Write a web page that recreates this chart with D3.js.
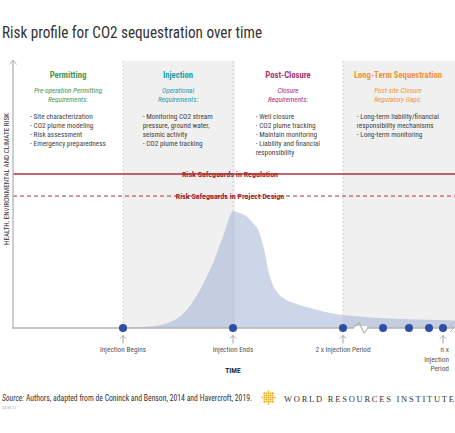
<!DOCTYPE html>
<html><head><meta charset="utf-8">
<script src="https://cdn.jsdelivr.net/npm/d3@7"></script>
<style>
body{margin:0;background:#fff;}
svg{display:block;}
text{font-family:"Liberation Sans Narrow","Roboto Condensed","DejaVu Sans Condensed",Roboto,sans-serif;}
</style></head>
<body>
<svg id="chart" width="455" height="433"></svg>
<script>
// ---------- data ----------
const title = "Risk profile for CO2 sequestration over time";
const phases = ["Permitting", "Injection", "Post-Closure", "Long-Term Sequestration"];
const phaseStart = [0, 1, 2, 3];
const phaseEnd = [1, 2, 3, 4];
const phaseShaded = [false, true, false, true];
const phaseColors = ["#3f9a5a", "#1ba3b3", "#a8336f", "#f0943a"];
const phaseSubtitles = [
  ["Pre-operation Permitting", "Requirements:"],
  ["Operational", "Requirements:"],
  ["Closure", "Requirements:"],
  ["Post-site Closure", "Regulatory Gaps:"]
];
const phaseBullets = [
  ["- Site characterization", "- CO2 plume modeling", "- Risk assessment", "- Emergency preparedness"],
  ["- Monitoring CO2 stream", "pressure, ground water,", "seismic activity", "- CO2 plume tracking"],
  ["- Well closure", "- CO2 plume tracking", "- Maintain monitoring", "- Liability and financial", "responsibility"],
  ["- Long-term liability/financial", "responsibility mechanisms", "- Long-term monitoring"]
];
// risk profile curve (time in injection periods, risk in % of axis height)
const curveTime = [1.0, 1.2, 1.34, 1.47, 1.58, 1.7, 1.76, 1.83, 1.88, 1.93, 1.965, 2.0,
  2.06, 2.13, 2.18, 2.23, 2.26, 2.29, 2.32, 2.355, 2.4, 2.47, 2.58, 2.7, 2.84, 3.0, 3.34, 3.7, 4.02];
const curveRisk = [0, 0.4, 1.1, 3.0, 6.8, 14.3, 19.2, 25.6, 31.2, 36.8, 41.4, 44.0,
  43.2, 41.7, 39.5, 36.8, 33.1, 28.2, 21.8, 16.9, 13.5, 10.9, 9.0, 7.5, 6.0, 4.9, 3.8, 3.2, 2.8];
const milestoneTime = [1, 2, 3, 3.364, 3.6, 3.782, 3.909];
const milestoneLabels = [["Injection Begins"], ["Injection Ends"], ["2 x Injection Period"], null, null, null, ["n x", "Injection", "Period"]];
const thresholdRisk = [57.9, 49.6];
const thresholdLabels = ["Risk Safeguards in Regulation", "Risk Safeguards in Project Design"];
const thresholdDashed = [false, true];
const yAxisLabel = "HEALTH, ENVIRONMENTAL AND CLIMATE RISK";
const xAxisLabel = "TIME";
const sourceLabel = "Source:";
const sourceText = " Authors, adapted from de Coninck and Benson, 2014 and Havercroft, 2019.";
const dateText = "24.08.12";
const orgName = "WORLD RESOURCES INSTITUTE";

// ---------- drawing ----------
(function () {
const svg = d3.select("#chart");
const x = d3.scaleLinear().domain([0, 4]).range([13, 453]);
const y = d3.scaleLinear().domain([0, 100]).range([328, 62]);
const bandTop = 61, base = y(0);
function condense(sel, f) {
  sel.each(function () {
    const len = this.getComputedTextLength();
    d3.select(this).attr("textLength", len * f).attr("lengthAdjust", "spacingAndGlyphs");
  });
  return sel;
}

svg.append("text").attr("x", 2).attr("y", 38).attr("font-size", 16.5).attr("fill", "#333")
  .attr("textLength", 260).attr("lengthAdjust", "spacingAndGlyphs").text(title);

// shaded bands
svg.selectAll("rect.band").data(phases.map((p, i) => i).filter(i => phaseShaded[i])).enter()
  .append("rect").attr("x", i => x(phaseStart[i])).attr("y", bandTop)
  .attr("width", i => Math.min(455, x(phaseEnd[i]) + 2) - x(phaseStart[i])).attr("height", base - bandTop)
  .attr("fill", "#f0f0f0");

// area
const pts = curveTime.map((t, i) => [t, curveRisk[i]]);
const area = d3.area().x(d => x(d[0])).y0(base).y1(d => y(d[1])).curve(d3.curveMonotoneX);
svg.append("path").datum(pts).attr("d", area).attr("fill", "rgba(149,166,206,0.47)");

// dashed phase dividers
svg.selectAll("line.div").data(phaseStart.slice(1)).enter().append("line")
  .attr("x1", d => x(d)).attr("x2", d => x(d)).attr("y1", bandTop).attr("y2", base)
  .attr("stroke", "#c8c8c8").attr("stroke-width", 0.8).attr("stroke-dasharray", "2,2");

// threshold lines
thresholdRisk.forEach((r, i) => {
  svg.append("line").attr("x1", 13).attr("x2", 455).attr("y1", y(r)).attr("y2", y(r))
    .attr("stroke", "#b3313d").attr("stroke-width", thresholdDashed[i] ? 1 : 1.3)
    .attr("stroke-dasharray", thresholdDashed[i] ? "4,3" : null);
  svg.append("text").attr("x", 230).attr("y", y(r) + 2.7).attr("text-anchor", "middle")
    .attr("font-size", 8).attr("font-weight", "bold").attr("fill", "#a0283a")
    .text(thresholdLabels[i]);
});

// phase texts
phases.forEach((p, i) => {
  const cx = (x(phaseStart[i]) + x(phaseEnd[i])) / 2;
  const t = svg.append("text").attr("x", cx).attr("y", 78).attr("text-anchor", "middle")
    .attr("font-size", 9.5).attr("font-weight", "bold").attr("fill", phaseColors[i]).text(p);
  condense(t, 0.91);
  phaseSubtitles[i].forEach((s, j) => {
    svg.append("text").attr("x", cx).attr("y", 92.5 + j * 9).attr("text-anchor", "middle")
      .attr("font-size", 7.3).attr("font-style", "italic").attr("fill", phaseColors[i]).text(s);
  });
  const g = svg.append("g");
  phaseBullets[i].forEach((b, j) => {
    g.append("text").attr("x", 0).attr("y", 118.5 + j * 9.2).attr("font-size", 7.3)
      .attr("fill", "#444").text(b);
  });
  const w = g.node().getBBox().width;
  g.attr("transform", `translate(${cx - w / 2},0)`);
});

// axes
const axisColor = "#b3b3b3";
svg.append("line").attr("x1", 13).attr("x2", 13).attr("y1", 60).attr("y2", base + 0.7)
  .attr("stroke", axisColor).attr("stroke-width", 1.3);
svg.append("path").attr("d", "M9.5,64.5 L13,60 L16.5,64.5").attr("fill", "none")
  .attr("stroke", axisColor).attr("stroke-width", 1);
const xAxis = d3.axisBottom(x).tickValues([]).tickSizeOuter(0);
const gx = svg.append("g").attr("transform", `translate(0,${base})`).call(xAxis);
gx.select(".domain").attr("stroke", axisColor).attr("stroke-width", 1.5)
  .attr("d", `M${x(0)},0H${x(4)}`);
svg.append("path").attr("d", `M${x(4) - 3},${base - 4} L${x(4) + 1},${base} L${x(4) - 3},${base + 4}`)
  .attr("fill", "none").attr("stroke", axisColor).attr("stroke-width", 1);

// zigzag break
svg.append("rect").attr("x", 354).attr("y", base - 2).attr("width", 13).attr("height", 4).attr("fill", "#fff");
svg.append("path").attr("d", `M353,${base} L359,${base - 5.5} L364,${base + 5} L368,${base}`)
  .attr("fill", "none").attr("stroke", axisColor).attr("stroke-width", 1.2);

// y label
svg.append("text").attr("transform", `translate(9,179) rotate(-90)`).attr("text-anchor", "middle")
  .attr("font-size", 7).attr("fill", "#333").attr("textLength", 132).attr("lengthAdjust", "spacingAndGlyphs")
  .text(yAxisLabel);

// milestones
svg.selectAll("circle.m").data(milestoneTime).enter().append("circle")
  .attr("cx", d => x(d)).attr("cy", base).attr("r", 4).attr("fill", "#2f4fa6");

milestoneTime.forEach((t, i) => {
  const lab = milestoneLabels[i];
  if (!lab) return;
  const cx = x(t);
  svg.append("path").attr("d", `M${cx},343.5 V335.5 M${cx - 3},338.5 L${cx},335.5 L${cx + 3},338.5`)
    .attr("fill", "none").attr("stroke", "#999").attr("stroke-width", 0.9);
  const multi = lab.length > 1;
  lab.forEach((l, j) => {
    svg.append("text").attr("x", multi ? 449 : cx).attr("y", 352 + j * 9.5)
      .attr("text-anchor", multi ? "end" : "middle").attr("font-size", 7.3).attr("fill", "#555").text(l);
  });
});

svg.append("text").attr("x", x(2)).attr("y", 373).attr("text-anchor", "middle")
  .attr("font-size", 7.5).attr("font-weight", "bold").attr("fill", "#333").text(xAxisLabel);

// source
const src = svg.append("text").attr("x", 2).attr("y", 401).attr("font-size", 8.3).attr("fill", "#333")
  .attr("textLength", 250).attr("lengthAdjust", "spacingAndGlyphs");
src.append("tspan").attr("font-style", "italic").text(sourceLabel);
src.append("tspan").text(sourceText);
svg.append("text").attr("x", 2).attr("y", 409).attr("font-size", 4).attr("fill", "#aaa").text(dateText);

// logo
const logo = svg.append("g").attr("transform", "translate(268.5,397.5)");
const cells = [];
for (let r = -3; r <= 3; r++) for (let c = -3; c <= 3; c++)
  if (Math.abs(r) + Math.abs(c) <= 4 && Math.max(Math.abs(r), Math.abs(c)) <= 3 && !(Math.abs(r) === 3 && Math.abs(c) === 1) && !(Math.abs(c) === 3 && Math.abs(r) === 1)) cells.push([c, r]);
logo.selectAll("path").data(cells).enter().append("path")
  .attr("d", d => { const cx = d[0] * 2.1, cy = d[1] * 2.1, s = 1.2; return `M${cx},${cy - s}L${cx + s},${cy}L${cx},${cy + s}L${cx - s},${cy}Z`; })
  .attr("fill", d => (Math.abs(d[0]) + Math.abs(d[1])) % 2 ? "#f7c22e" : "#f29a1f");
svg.append("text").attr("x", 284).attr("y", 401.5).attr("font-size", 8.5)
  .style("font-family", "'Liberation Serif','DejaVu Serif',serif").attr("fill", "#333")
  .attr("textLength", 170).attr("lengthAdjust", "spacing").text(orgName);
})();
</script>
</body></html>
